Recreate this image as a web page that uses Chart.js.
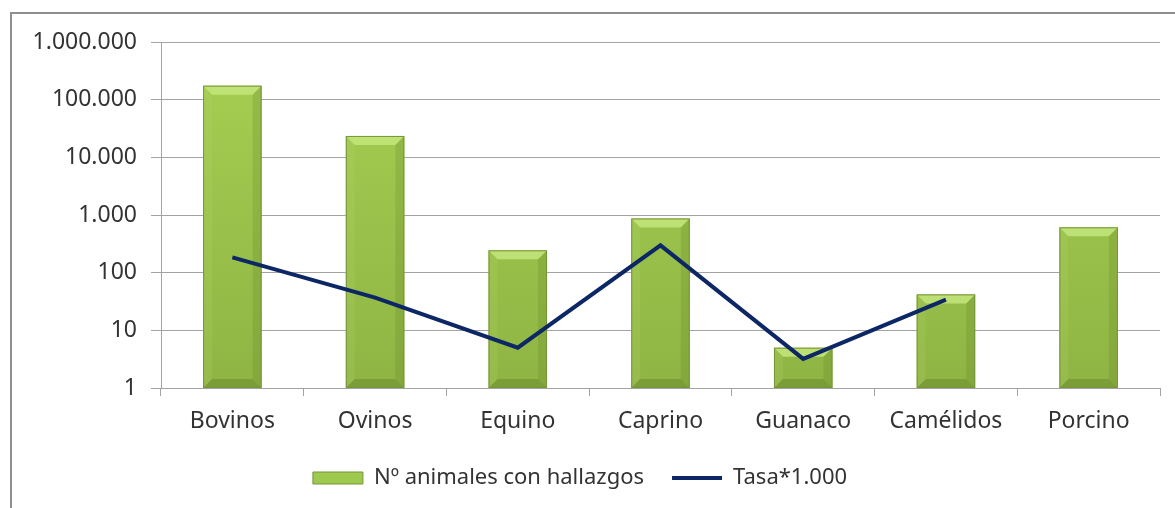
<!DOCTYPE html>
<html>
<head>
<meta charset="utf-8">
<script src="https://cdn.jsdelivr.net/npm/chart.js@4"></script>
<style>
  html, body { margin: 0; padding: 0; background: #fff; overflow: hidden; }
  #wrap { position: relative; width: 1175px; height: 508px; }
  #frame { position: absolute; left: 10px; top: 12px; width: 1200px; height: 600px;
           border: 2px solid #8f8f8f; box-sizing: border-box; }
  canvas { position: absolute; left: 0; top: 0; }
</style>
</head>
<body>
<div id="wrap">
  <div id="frame"></div>
  <canvas id="chart" width="1175" height="508"></canvas>
</div>
<script>
// ── Data ─────────────────────────────────────────────────────────────────────

const categories = ['Bovinos', 'Ovinos', 'Equino', 'Caprino', 'Guanaco', 'Camélidos', 'Porcino'];
const animales = [175000, 23500, 244, 870, 5, 42, 612];
const tasa = [184, 37, 5, 298, 3.2, 34, null];
const yTicks = [1, 10, 100, 1000, 10000, 100000, 1000000];
const yTickLabels = ['1', '10', '100', '1.000', '10.000', '100.000', '1.000.000'];

const FONT = "'Noto Sans', 'DejaVu Sans', sans-serif";
const textColor = '#333333';
const gridColor = '#a3a3a3';

Chart.defaults.font.family = FONT;
Chart.defaults.font.size = 23;
Chart.defaults.color = textColor;

// bar fill: vertical gradient over the chart area
function barFill(ctx) {
  const chart = ctx.chart;
  const area = chart.chartArea;
  if (!area) return '#9bc44a';
  const g = chart.ctx.createLinearGradient(0, area.top, 0, area.bottom);
  g.addColorStop(0, '#a6d052');
  g.addColorStop(1, '#8fb444');
  return g;
}

// bevelled look drawn on top of each bar element
const bevelPlugin = {
  id: 'bevel',
  afterDatasetDraw(chart, args) {
    if (args.index !== 0) return;
    const ctx = chart.ctx;
    args.meta.data.forEach(el => {
      const {x, y, base, width} = el.getProps(['x', 'y', 'base', 'width'], true);
      const l = x - width / 2, r = x + width / 2;
      const h = base - y;
      const b = Math.min(9, h / 2);
      ctx.save();
      // top facet
      ctx.fillStyle = 'rgba(196,230,125,0.85)';
      ctx.beginPath();
      ctx.moveTo(l, y); ctx.lineTo(r, y); ctx.lineTo(r - b, y + b); ctx.lineTo(l + b, y + b);
      ctx.closePath(); ctx.fill();
      // left facet
      ctx.fillStyle = 'rgba(180,215,110,0.2)';
      ctx.beginPath();
      ctx.moveTo(l, y); ctx.lineTo(l + b, y + b); ctx.lineTo(l + b, base - b); ctx.lineTo(l, base);
      ctx.closePath(); ctx.fill();
      // right facet
      ctx.fillStyle = 'rgba(90,120,30,0.2)';
      ctx.beginPath();
      ctx.moveTo(r, y); ctx.lineTo(r - b, y + b); ctx.lineTo(r - b, base - b); ctx.lineTo(r, base);
      ctx.closePath(); ctx.fill();
      // bottom facet
      ctx.fillStyle = 'rgba(80,105,25,0.3)';
      ctx.beginPath();
      ctx.moveTo(l, base); ctx.lineTo(l + b, base - b); ctx.lineTo(r - b, base - b); ctx.lineTo(r, base);
      ctx.closePath(); ctx.fill();
      // outline
      ctx.strokeStyle = '#76943a';
      ctx.lineWidth = 1;
      ctx.strokeRect(l + 0.5, y + 0.5, width - 1, h - 1);
      ctx.restore();
    });
  }
};

// ── Chart ────────────────────────────────────────────────────────────────────

const chart = new Chart(document.getElementById('chart'), {
  type: 'bar',
  data: {
    labels: categories,
    datasets: [
      {
        label: 'Nº animales con hallazgos',
        data: animales,
        backgroundColor: barFill,
        borderWidth: 0,
        categoryPercentage: 1,
        barPercentage: 0.41,
        pointStyle: 'rect',
        order: 1,
      },
      {
        label: 'Tasa*1.000',
        data: tasa,
        type: 'line',
        borderColor: '#0d2766',
        backgroundColor: '#0d2766',
        borderWidth: 4,
        pointRadius: 0,
        pointStyle: 'line',
        tension: 0,
        spanGaps: false,
        order: 0,
      }
    ]
  },
  options: {
    responsive: false,
    animation: false,
    layout: { padding: { top: 42, right: 15, bottom: 9, left: 0 } },
    plugins: {
      tooltip: { enabled: false },
      legend: {
        position: 'bottom',
        labels: {
          usePointStyle: true,
          pointStyleWidth: 50,
          boxHeight: 12,
          padding: 28,
          color: textColor,
          font: { size: 22 },
          sort: (a, b) => a.datasetIndex - b.datasetIndex,
          generateLabels(chart) {
            const items = Chart.defaults.plugins.legend.labels.generateLabels(chart);
            items.forEach(it => {
              if (it.datasetIndex === 0) {
                it.fillStyle = '#9ec94f';
                it.strokeStyle = '#76943a';
                it.lineWidth = 1;
              }
            });
            return items;
          }
        }
      }
    },
    scales: {
      x: {
        grid: { display: true, drawOnChartArea: false, drawTicks: true, tickLength: 8, color: gridColor, offset: true },
        border: { color: gridColor },
        ticks: { padding: 12, color: textColor, font: { size: 23 } },
        afterFit(scale) { scale.height = 51; }
      },
      y: {
        type: 'logarithmic',
        min: 1,
        max: 1000000,
        grid: { color: gridColor, tickLength: 10 },
        border: { color: gridColor },
        ticks: {
          padding: 14,
          color: textColor,
          font: { size: 23 },
          callback: (v) => {
            const i = yTicks.indexOf(v);
            return i >= 0 ? yTickLabels[i] : '';
          }
        },
        afterBuildTicks(scale) { scale.ticks = yTicks.map(v => ({ value: v })); },
        afterFit(scale) { scale.width = 161; }
      }
    }
  },
  plugins: [bevelPlugin]
});
</script>
</body>
</html>
